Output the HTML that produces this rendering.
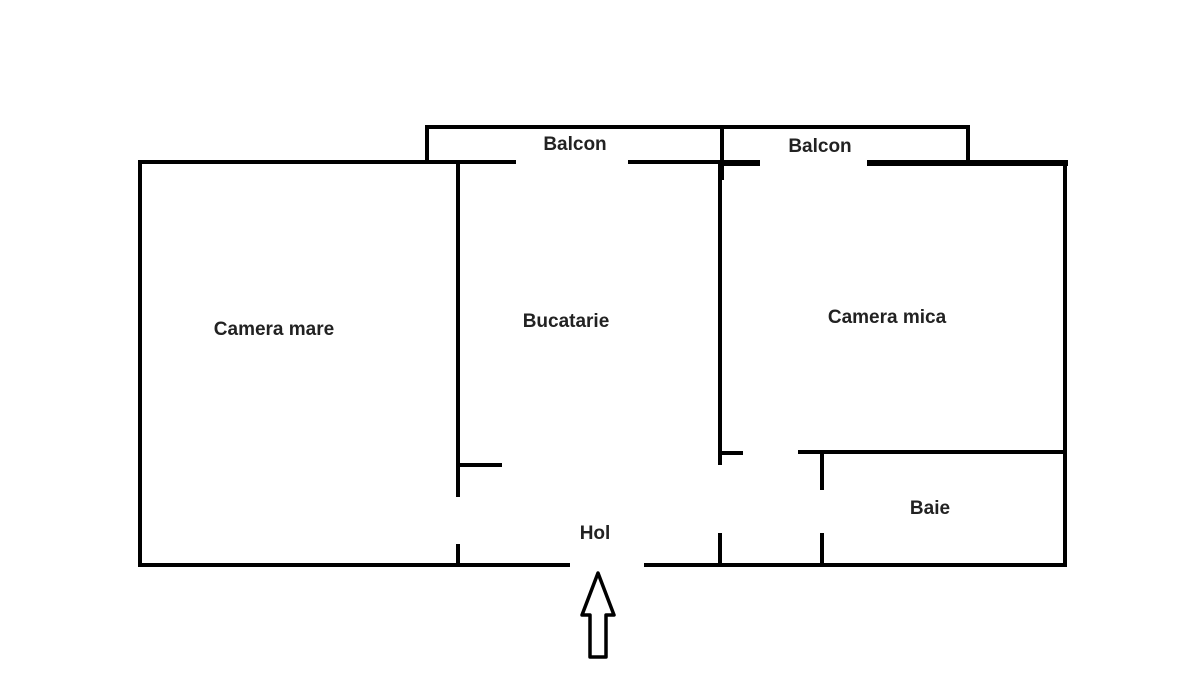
<!DOCTYPE html>
<html><head><meta charset="utf-8"><style>
body{margin:0;background:#fff;}
svg{display:block}
text{font-family:"Liberation Sans",sans-serif;font-weight:bold;font-size:19px;fill:#222;text-anchor:middle}
</style></head><body>
<svg width="1200" height="675" viewBox="0 0 1200 675">
<g stroke="#000" fill="none" stroke-width="4">
<polyline points="427,161 427,127 968,127 968,161"/>
<line x1="722" y1="127" x2="722" y2="180"/>
<line x1="138" y1="162" x2="516" y2="162"/>
<line x1="628" y1="162" x2="722" y2="162"/>
<line x1="722" y1="163" x2="760" y2="163" stroke-width="6"/>
<line x1="867" y1="163" x2="1068" y2="163" stroke-width="6"/>
<line x1="140" y1="160" x2="140" y2="567"/>
<line x1="1065" y1="161" x2="1065" y2="567"/>
<line x1="138" y1="565" x2="570" y2="565"/>
<line x1="644" y1="565" x2="1067" y2="565"/>
<line x1="458" y1="162" x2="458" y2="497"/>
<line x1="458" y1="465" x2="502" y2="465"/>
<line x1="458" y1="544" x2="458" y2="565"/>
<line x1="720" y1="163" x2="720" y2="465"/>
<line x1="720" y1="453" x2="743" y2="453"/>
<line x1="720" y1="533" x2="720" y2="565"/>
<line x1="798" y1="452" x2="1065" y2="452"/>
<line x1="822" y1="452" x2="822" y2="490"/>
<line x1="822" y1="533" x2="822" y2="565"/>
<polygon points="598,573 614,615 606,615 606,657 590,657 590,615 582,615" stroke-width="3.5" stroke-linejoin="round"/>
</g>
<text x="274" y="335">Camera mare</text>
<text x="566" y="327">Bucatarie</text>
<text x="887" y="323">Camera mica</text>
<text x="575" y="150">Balcon</text>
<text x="820" y="152">Balcon</text>
<text x="930" y="514">Baie</text>
<text x="595" y="539">Hol</text>
</svg>
</body></html>
